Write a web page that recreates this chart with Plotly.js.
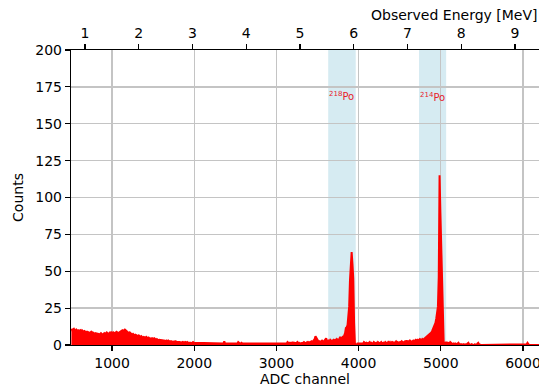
<!DOCTYPE html>
<html>
<head>
<meta charset="utf-8">
<script src="https://cdn.plot.ly/plotly-3.0.1.min.js"></script>
<style>html,body{margin:0;padding:0;background:#fff}#chart{width:539px;height:389px}</style>
</head>
<body>
<div id="chart"></div>
<script>
// Histogram: ADC bins of width 10 starting at channel 500
const binStart = 500;
const binWidth = 10;
const counts = [
/*500*/ 11,10,10.5,11,10,9.5,10.5,10,9.5,10,
/*600*/ 9.5,10,9,10,9.5,9,9.5,9,8.5,9,
/*700*/ 9,8.5,8,8.5,9,8,8.5,8,7.5,8,
/*800*/ 8,7.5,8,7.5,7,7.5,8,7.5,7,7.5,
/*900*/ 8,7.5,8,8.5,8,7.5,8,8.5,8,8.5,
/*1000*/ 8,8.5,8,8,8.5,9,8.5,8,8.5,9,
/*1100*/ 9,9.5,10,9.5,10,10.5,10,9.5,9,8.5,
/*1200*/ 8,8.5,8,7.5,7,7.5,7,6.5,7,6.5,
/*1300*/ 6.5,6,6.5,6,5.5,6,5.5,5,5.5,5,
/*1400*/ 5,5.5,5,4.5,5,4.5,4,4.5,4,4.5,
/*1500*/ 4,4.5,4,3.5,4,3.5,3,3.5,3.5,3,
/*1600*/ 3.5,3,3,3.5,3,2.5,3,2.5,3,2.5,
/*1700*/ 2.5,3,2.5,2,2.5,2.5,2,2.5,2,2,
/*1800*/ 2.5,2,2,1.5,2,2,1.5,2,1.5,2,
/*1900*/ 1.5,2,1.5,1.5,2,1.5,1,1.5,2,1.5,
/*2000*/ 1.5,1,1.5,1,1.5,1,1,1.5,1,1,
/*2100*/ 1,1.5,1,1,1.5,1,1,1,1.5,1,
/*2200*/ 1,1,1.5,1,1,1.5,1,1,1,1.5,
/*2300*/ 1,1,1,1.5,1,1,2.5,1,1,1,
/*2400*/ 1.5,1,1,1,1.5,1,1,1,1,1.5,
/*2500*/ 1,1,1,2,1,1,1,1.5,1,1,
/*2600*/ 1,1.5,1,1,1,1,1.5,1,1,1,
/*2700*/ 1,1,1.5,1,1,1,1,1.5,1,1,
/*2800*/ 1,1.5,1,1,1,1.5,1,1,1,1,
/*2900*/ 1,1,1.5,1,1,1,1.5,1,1,1.5,
/*3000*/ 1,1,1.5,1,1,1,1.5,1,1,1,
/*3100*/ 1.5,1,1,2,1,1,1.5,1,1,2,
/*3200*/ 1,1.5,1,1,1.5,2,1,1.5,1,1,
/*3300*/ 1.5,1,1.5,2,1.5,1,1.5,2,1.5,2,
/*3400*/ 1.5,2,2.5,2,2.5,3,4,6,5,3,
/*3500*/ 2.5,2,2.5,2,2.5,3,2.5,2,3,3.5,
/*3600*/ 4.5,3,2.5,3,2.5,3.5,3,2.5,3,3.5,
/*3700*/ 3,3.5,3,4,3.5,3,4,5.5,4,4.5,
/*3800*/ 5.5,5,6,8,11.5,12,13.5,18,26,44,
/*3900*/ 56,63,55,45,15,1,0,0,1,1,
/*4000*/ 1,1.5,1,1,1.5,1,2,1,1,1.5,
/*4100*/ 1,1,1.5,2,1,1.5,1,1,2,1.5,
/*4200*/ 1,1.5,1,2,1.5,1,1.5,2,1,1.5,
/*4300*/ 1.5,1,2,1.5,1,1.5,2.5,1.5,1,2,
/*4400*/ 1.5,2,1.5,1,2,2.5,1.5,2,1.5,2,
/*4500*/ 2,1.5,2.5,2,1.5,2,2.5,2,3,2,
/*4600*/ 2.5,2,3,2.5,2,2.5,3,2.5,3,3.5,
/*4700*/ 3,3.5,3,3.5,4,3.5,3,4,3.5,4,
/*4800*/ 4.5,4.5,5,5.5,6,6.5,7,8,8.5,9.5,
/*4900*/ 11,11.5,13,15,18,22,26,46,115,90,
/*5000*/ 65,30,8,2,1.5,1,2,1,1.5,1,
/*5100*/ 1,2,1.5,1,0.5,1,0.5,1,0.5,0.5,
/*5200*/ 1,1.5,0.5,0.5,1,0.5,0,0.5,0,0.5,
/*5300*/ 0,0.5,1,1.5,0.5,0,0,0.5,0,0,
/*5400*/ 0,0.5,0,0,1,1.5,0.5,0,0,0,
/*5500*/ 0,0,0.5,0,0,0,0,0,0.5,0,
/*5600*/ 0,0,0,0,0,0,0,0,0,0,
/*5700*/ 0,0,0,0,0,0,0,0,0,0,
/*5800*/ 0,0,0,0,0,0,0,0,0,0,
/*5900*/ 0,0,0,0,0,0,0,0,0,0,
/*6000*/ 0,0,0,0,0.5,1.5,0.5,0,0,0,
/*6100*/ 0,0,0,0,0,0,0,0,0,0
];
const channels = counts.map((_, i) => binStart + binWidth * i + binWidth / 2);

const calOffset = 16.7;
const calSlope = 654;

const adcRange = [500, 6195];
const yRange = [0, 200];
const yTicks = [0, 25, 50, 75, 100, 125, 150, 175, 200];
const adcTicks = [1000, 2000, 3000, 4000, 5000, 6000];
const energyTicks = [1, 2, 3, 4, 5, 6, 7, 8, 9];

const bands = [[3630, 3965], [4735, 5065]];
const peakLabels = ['<sup>218</sup>Po', '<sup>214</sup>Po'];
const peakLabelX = [3790, 4900];
const peakLabelY = [169, 168];

const font = {family: 'DejaVu Sans, sans-serif', size: 14, color: '#000'};

const traces = [{
  x: channels, y: counts, type: 'scatter', mode: 'lines',
  line: {color: '#ff0000', width: 2},
  fill: 'tozeroy', fillcolor: '#ff0000',
  xaxis: 'x', yaxis: 'y', hoverinfo: 'skip'
}, {
  x: [adcRange[0], adcRange[1]].map(v => (v - calOffset) / calSlope),
  y: [null, null], type: 'scatter', mode: 'lines',
  xaxis: 'x2', yaxis: 'y', showlegend: false, hoverinfo: 'skip'
}];

const layout = {
  width: 539, height: 389,
  margin: {l: 71, r: 0, t: 50, b: 44, pad: 0},
  paper_bgcolor: '#fff', plot_bgcolor: '#fff',
  showlegend: false,
  font: font,
  xaxis: {
    range: adcRange, tickvals: adcTicks, ticktext: adcTicks.map(String),
    showgrid: true, gridcolor: '#c4c4c4', gridwidth: 1.3,
    showline: true, linecolor: '#000', linewidth: 1.2,
    ticks: 'outside', ticklen: 5, tickwidth: 1.2, tickcolor: '#000',
    zeroline: false, tickfont: font, ticklabeloverflow: 'allow',
    title: {text: 'ADC channel', font: font, standoff: 3}
  },
  xaxis2: {
    overlaying: 'x', side: 'top', anchor: 'y',
    range: adcRange.map(v => (v - calOffset) / calSlope),
    tickvals: energyTicks, ticktext: energyTicks.map(String),
    showgrid: false, showline: true, linecolor: '#000', linewidth: 1.2,
    ticks: 'outside', ticklen: 5, tickwidth: 1.2, tickcolor: '#000',
    zeroline: false, tickfont: font, ticklabeloverflow: 'allow'
  },
  yaxis: {
    range: yRange, tickvals: yTicks, ticktext: yTicks.map(String),
    showgrid: true, gridcolor: '#c4c4c4', gridwidth: 1.3,
    showline: true, linecolor: '#000', linewidth: 1.2, mirror: false,
    ticks: 'outside', ticklen: 5, tickwidth: 1.2, tickcolor: '#000',
    zeroline: false, tickfont: font,
    title: {text: 'Counts', font: font, standoff: 8}
  },
  shapes: bands.map(b => ({
    type: 'rect', xref: 'x', yref: 'paper', x0: b[0], x1: b[1], y0: 0, y1: 1,
    fillcolor: 'rgba(173,216,230,0.5)', line: {width: 0}, layer: 'below'
  })),
  annotations: peakLabels.map((t, i) => ({
    text: t, x: peakLabelX[i], y: peakLabelY[i], xref: 'x', yref: 'y',
    showarrow: false, font: {family: 'DejaVu Sans, sans-serif', size: 10, color: '#e8202a'}
  })).concat([{
    text: 'Observed Energy [MeV]', xref: 'paper', yref: 'paper', x: 1, y: 1,
    xanchor: 'right', yanchor: 'bottom', yshift: 25, showarrow: false, font: font
  }])
};

Plotly.newPlot('chart', traces, layout, {displayModeBar: false, staticPlot: true});
</script>
</body>
</html>
